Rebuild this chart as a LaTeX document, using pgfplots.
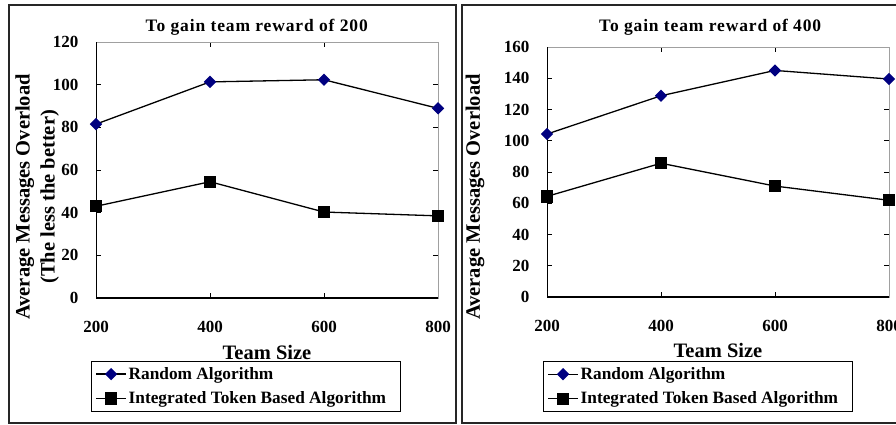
\documentclass[border=0pt]{standalone}
\usepackage{fontspec}
\setmainfont{Liberation Serif}
\usepackage{pgfplots}
\pgfplotsset{compat=1.18}

\definecolor{rndblue}{HTML}{000080}
\definecolor{framegray}{HTML}{A0A0A0}

\newcommand{\legfont}{\fontsize{17.3}{20}\selectfont\bfseries}

\pgfplotsset{
  panel/.style={
    scale only axis,
    width=342pt,
    xmin=200, xmax=800,
    xtick={200,400,600,800},
    ymin=0,
    tick align=inside,
    major tick length=5pt,
    tick style={black, line width=0.8pt},
    axis line style={framegray, line width=1pt},
    /pgf/number format/assume math mode=true,
    ticklabel style={font=\fontsize{17}{20}\selectfont\bfseries},
    xticklabel style={yshift=-20pt},
    yticklabel style={xshift=-14pt},
    xlabel={Team Size},
    xlabel style={font=\fontsize{20.5}{24}\selectfont\bfseries, at={(axis description cs:0.5,-0.17)}, anchor=north},
    title style={font=\fontsize{17.5}{20}\selectfont\bfseries\addfontfeature{LetterSpace=5}, anchor=center, yshift=-6pt},
    legend style={
      draw=black, line width=0.8pt,
      font=\legfont,
      anchor=north west,
      inner xsep=4pt, inner ysep=4pt,
      row sep=7pt,
      cells={anchor=west},
    },
    legend image code/.code={
      \draw[#1, line width=1.3pt, mark repeat=2, mark phase=2]
        plot coordinates {(0pt,0pt) (15pt,0pt) (30pt,0pt)};
    },
    every axis plot/.append style={line width=1.3pt},
  },
  randstyle/.style={black, mark=square*, mark size=3.7pt,
    mark options={rotate=45, fill=rndblue, draw=rndblue, solid}},
  tokenstyle/.style={black, mark=square*, mark size=5.5pt,
    mark options={fill=black, draw=black, solid}},
}

\begin{document}
\begin{tikzpicture}[x=1pt, y=1pt]
\useasboundingbox (0,0) rectangle (896,424);
\clip (0,0) rectangle (896,424);
\fill[white] (0,0) rectangle (896,424);

% panel frames
\draw[line width=1.2pt, black!85] (9,1) rectangle (456,419);
\draw[line width=1.2pt, black!85] (462,1) rectangle (910,419);

% left panel: team reward 200
\begin{axis}[panel,
  at={(96pt,126pt)}, anchor=south west,
  height=256pt,
  ymax=120, ytick={0,20,...,120},
  title={To gain team reward of 200},
  title style={at={(axis description cs:0.47,1.059)}},
  ylabel={Average Messages Overload\\(The less the better)},
  ylabel style={font=\fontsize{20.5}{25}\selectfont\bfseries, align=center,
    at={(axis description cs:-0.172,0.395)}, anchor=center, rotate=0},
  legend style={at={(axis description cs:-0.0146,-0.246)}},
]
\addplot[randstyle] coordinates {(200,81.5) (400,101.3) (600,102.3) (800,88.9)};
\addlegendentry{Random Algorithm}
\addplot[tokenstyle] coordinates {(200,43) (400,54.5) (600,40.3) (800,38.5)};
\addlegendentry{Integrated Token Based Algorithm\kern8pt}
\draw[black, line width=1.2pt] (rel axis cs:0,1) -- (rel axis cs:0,0) -- (rel axis cs:1,0);
\end{axis}

% right panel: team reward 400
\begin{axis}[panel,
  at={(547pt,127pt)}, anchor=south west,
  height=250pt,
  ymax=160, ytick={0,20,...,160},
  title={To gain team reward of 400},
  title style={at={(axis description cs:0.477,1.08)}},
  ylabel={Average Messages Overload},
  ylabel style={font=\fontsize{20.5}{25}\selectfont\bfseries,
    at={(axis description cs:-0.2105,0.40)}, anchor=center, rotate=0},
  legend style={at={(axis description cs:-0.0117,-0.256)}},
]
\addplot[randstyle] coordinates {(200,104.3) (400,128.8) (600,145) (800,139.5)};
\addlegendentry{Random Algorithm}
\addplot[tokenstyle] coordinates {(200,64.4) (400,85.6) (600,71) (800,61.9)};
\addlegendentry{Integrated Token Based Algorithm\kern8pt}
\draw[black, line width=1.2pt] (rel axis cs:0,1) -- (rel axis cs:0,0) -- (rel axis cs:1,0);
\end{axis}
\end{tikzpicture}
\end{document}
